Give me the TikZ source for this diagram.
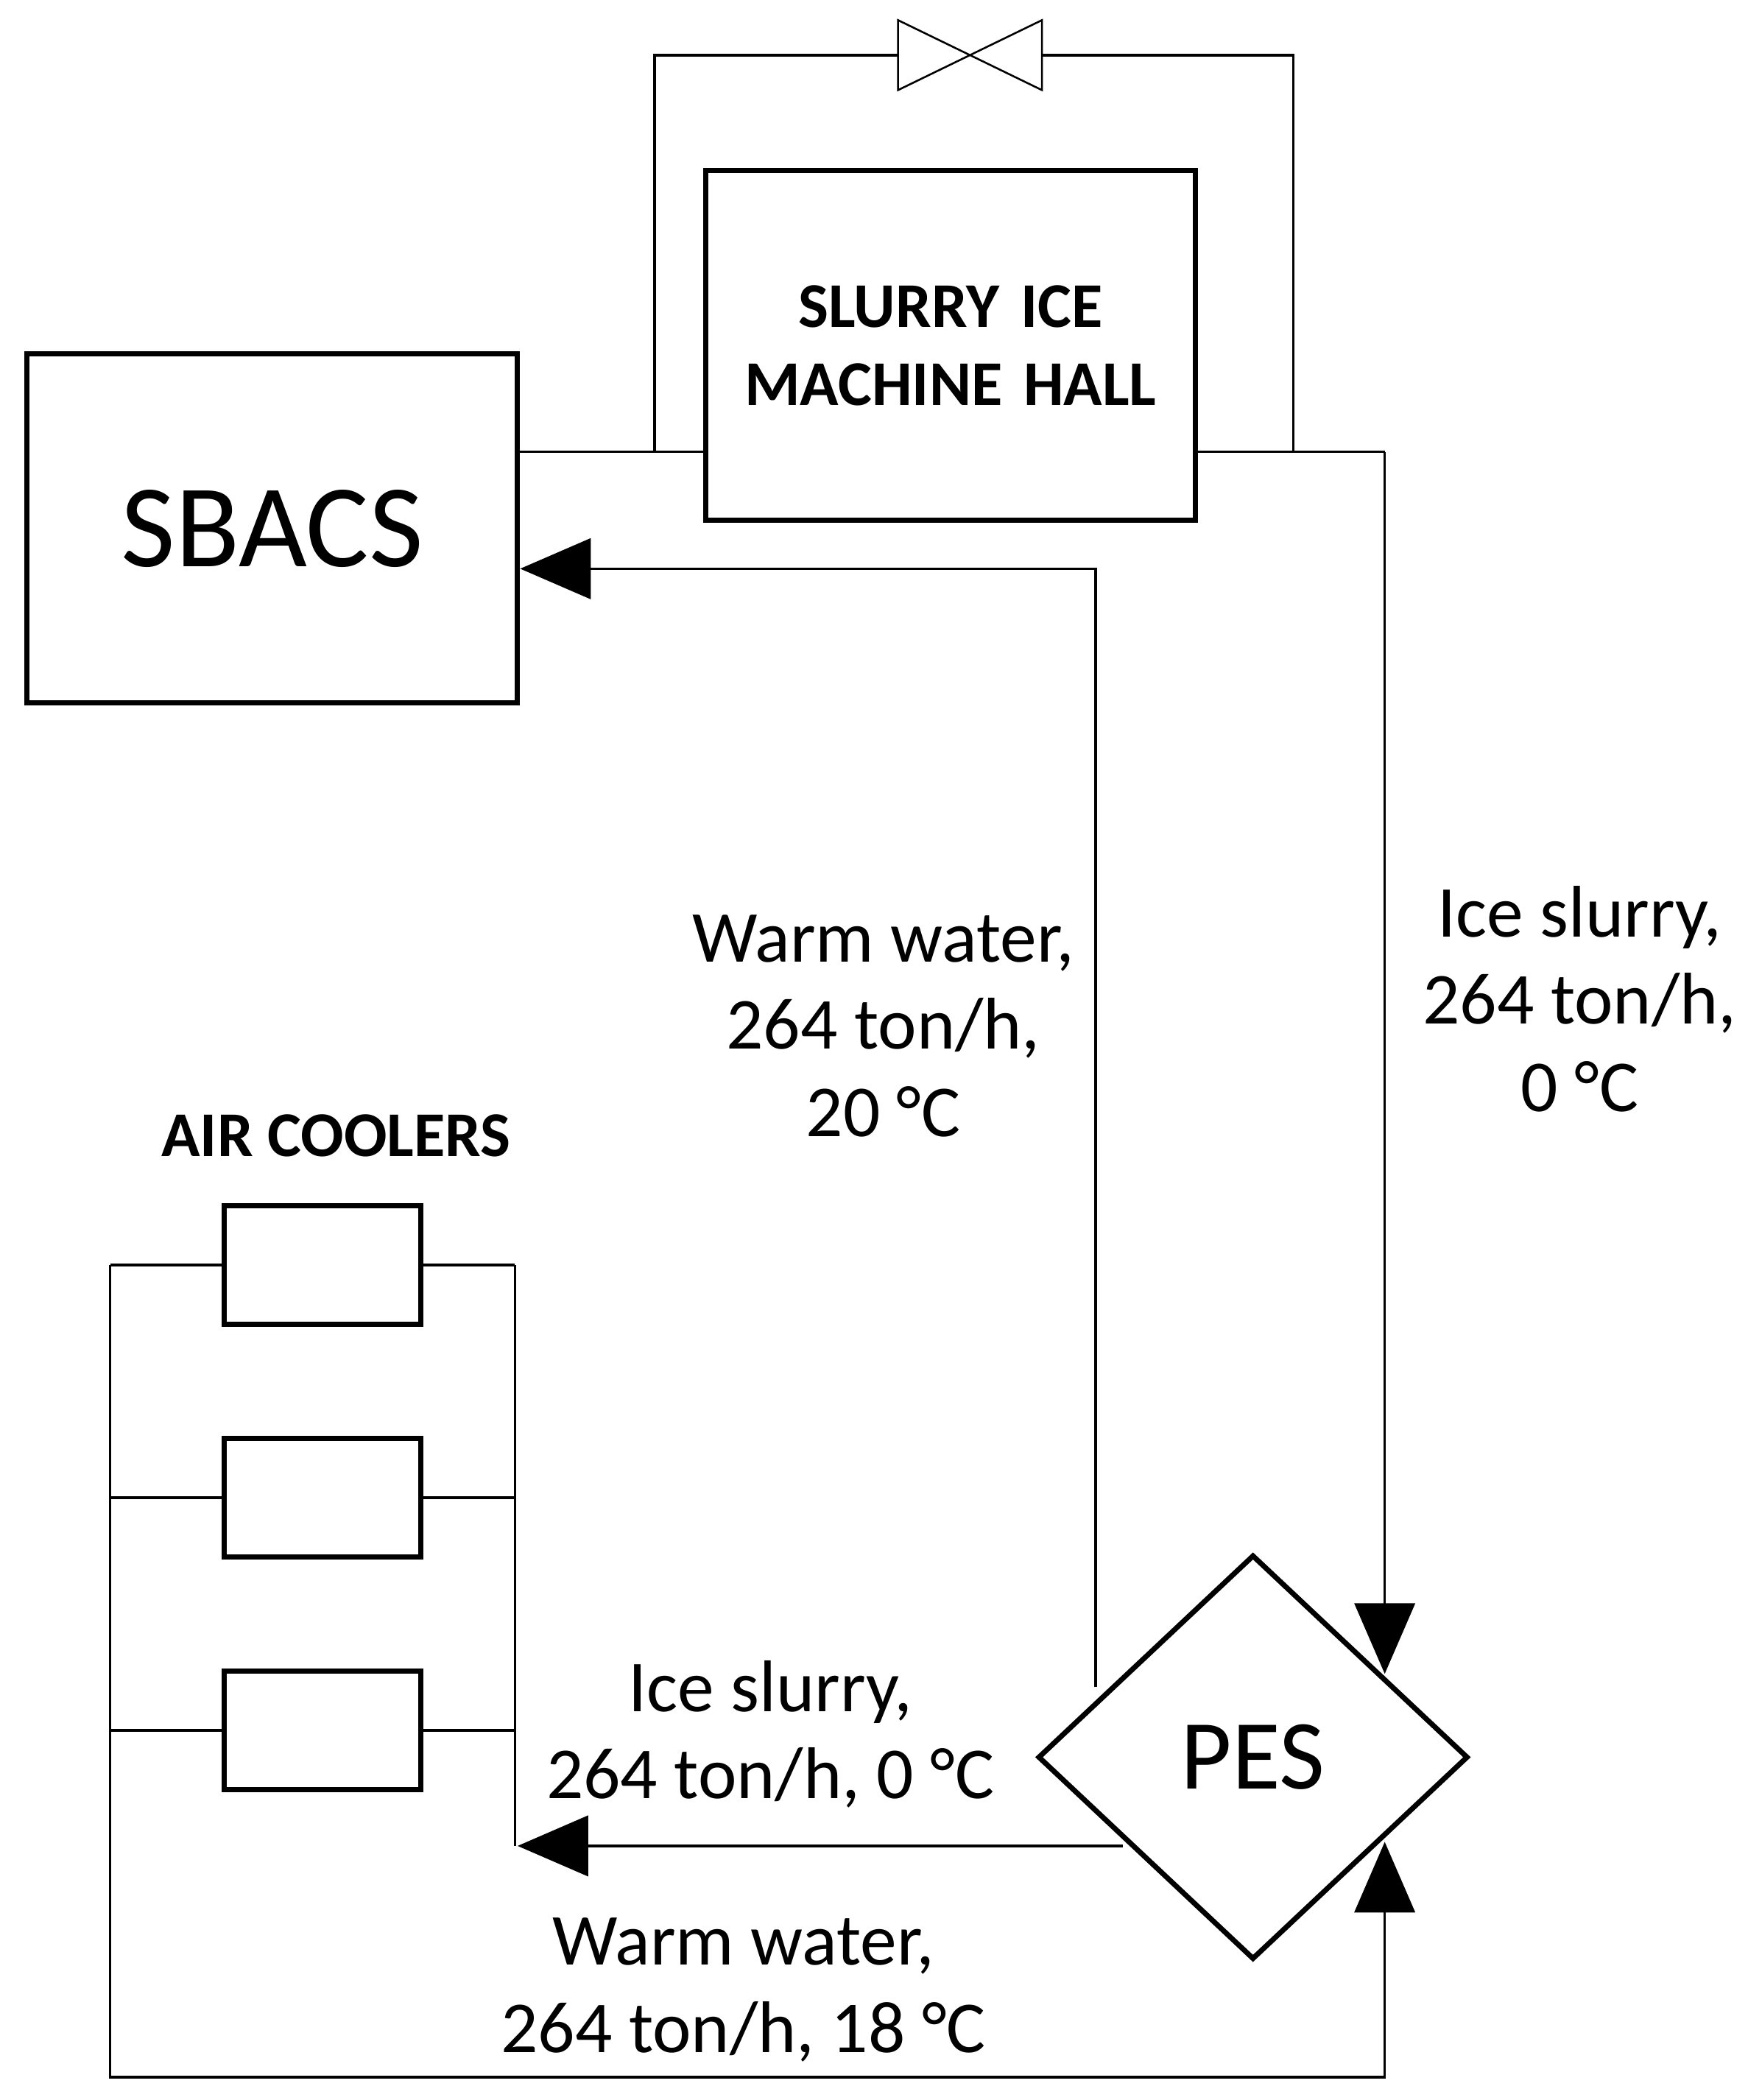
\documentclass[tikz,border=0pt]{standalone}
\usepackage{fontspec}
\setmainfont{Carlito}
\usetikzlibrary{shapes.geometric,arrows.meta}
\begin{document}
\begin{tikzpicture}[x=0.02cm,y=-0.02cm,
  thick box/.style={draw,line width=2.2pt,minimum height=5.2cm,inner sep=0,align=center},
  cooler/.style={draw,line width=2.2pt,minimum width=2.92cm,minimum height=1.76cm,inner sep=0},
  pipe/.style={line width=1.1pt},
  flow/.style={pipe,-{Triangle[length=1.05cm,width=0.9cm]}},
  lbl/.style={font=\fontsize{31}{37}\selectfont,align=center}]
\useasboundingbox (0,0) rectangle (1300,1562);
\node[thick box,minimum width=7.3cm,font=\fontsize{50}{58}\selectfont] (sbacs) at (202.5,393) {SBACS};
\node[thick box,minimum width=7.28cm,text width=7cm,font=\fontsize{27}{33}\selectfont\bfseries] (hall) at (707,257) {SLURRY ICE\\ MACHINE HALL};
\node[draw,diamond,line width=2.2pt,minimum width=6.4cm,minimum height=6.02cm,inner sep=0,aspect=1,font=\fontsize{42}{50}\selectfont] (pes) at (932,1307) {PES};
\node[cooler] (c1) at (240,941) {};
\node[cooler] (c2) at (240,1114) {};
\node[cooler] (c3) at (240,1287) {};
% valve
\coordinate (va) at (668,41); \coordinate (vb) at (775,41);
\draw[line width=0.8pt,line join=miter] (668,15) -- (668,67) -- (775,15) -- (775,67) -- cycle;
\coordinate (jl) at (487,336); \coordinate (jr) at (962,336);
\draw[pipe] (jl) -- (487,41) -- (va);
\draw[pipe] (vb) -- (962,41) -- (jr);
\draw[pipe] (sbacs.east |- jl) -- (hall.west |- jl);
\draw[pipe] (hall.east |- jr) -- (1030,336) coordinate (tr);
\draw[flow] (tr) -- (1030,1245);
\draw[flow] (815,1255) -- (815,423) -- (sbacs.east |- 0,423);
\draw[flow] (835,1373) -- (385,1373);
\draw[flow] (82,941) -- (82,1545) -- (1030,1545) -- (1030,1370);
\draw[pipe] (383,941) -- (383,1373);
\foreach \c/\y in {c1/941,c2/1114,c3/1287}{
  \draw[pipe] (82,\y) -- (\c.west);
  \draw[pipe] (\c.east) -- (383,\y);}
\node[lbl] at (657,763) {Warm water,\\264 ton/h,\\20 °C};
\node[lbl] at (1175,743) {Ice slurry,\\264 ton/h,\\0 °C};
\node[font=\fontsize{27}{32}\selectfont\bfseries] at (250,845) {AIR COOLERS};
\node[lbl] at (573,1290) {Ice slurry,\\264 ton/h, 0 °C};
\node[lbl] at (553,1480) {Warm water,\\264 ton/h, 18 °C};
\end{tikzpicture}
\end{document}
